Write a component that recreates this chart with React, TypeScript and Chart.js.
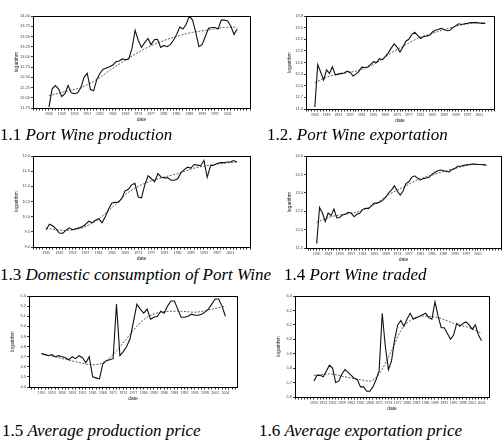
import { useEffect, useRef } from 'react';
import { Chart, registerables } from 'chart.js';

Chart.register(...registerables);

// ---- 1.1 Port Wine production (log), yearly from 1945 ----
const productionStart = 1945;
const productionValues = [
  11.77, 12.22, 12.3, 12.22, 12.03, 12.1, 12.3, 12.12, 12.1, 12.12,
  12.25, 12.5, 12.6, 12.2, 12.17, 12.45, 12.6, 12.7, 12.73, 12.76,
  12.8, 12.88, 12.9, 12.95, 12.93, 12.95, 13.2, 13.65, 13.4, 13.23,
  13.35, 13.45, 13.3, 13.42, 13.43, 13.23, 13.28, 13.25, 13.3, 13.4,
  13.55, 13.73, 13.68, 13.8, 14.0, 13.9, 13.6, 13.25, 13.3, 13.5,
  13.7, 13.72, 13.72, 13.68, 13.9, 13.9, 13.88, 13.75, 13.55, 13.68,
];
const productionTrendYears = [1945, 1950, 1955, 1960, 1965, 1970, 1975, 1980, 1985, 1990, 1995, 2000, 2004];
const productionTrend = [12.05, 12.15, 12.25, 12.45, 12.72, 12.97, 13.2, 13.37, 13.5, 13.6, 13.66, 13.72, 13.73];
const productionTicks = [11.75, 14.0, 0.25];

// ---- 1.2 Port Wine exportation (log) ----
const exportStart = 1945;
const exportValues = [
  11.45, 12.55, 12.35, 12.15, 12.41, 12.32, 12.49, 12.28, 12.3, 12.32,
  12.33, 12.38, 12.35, 12.25, 12.3, 12.37, 12.48, 12.47, 12.48, 12.55,
  12.62, 12.6, 12.7, 12.67, 12.75, 12.85, 12.97, 13.08, 13.0, 12.87,
  13.0, 13.15, 13.2, 13.32, 13.38, 13.3, 13.22, 13.27, 13.28, 13.3,
  13.38, 13.43, 13.45, 13.48, 13.45, 13.42, 13.43, 13.5, 13.55, 13.6,
  13.58, 13.6, 13.61, 13.63, 13.63, 13.63, 13.62, 13.61, 13.61,
];
const exportTrendYears = [1945, 1950, 1955, 1960, 1965, 1970, 1975, 1980, 1985, 1990, 1995, 2000, 2003];
const exportTrend = [12.08, 12.25, 12.32, 12.4, 12.55, 12.8, 13.02, 13.22, 13.35, 13.47, 13.57, 13.62, 13.62];
const exportTicks = [11.4, 13.8, 0.3];

// ---- 1.3 Domestic consumption of Port Wine (log) ----
const domesticStart = 1945;
const domesticValues = [
  9.57, 9.75, 9.7, 9.6, 9.46, 9.45, 9.55, 9.63, 9.57, 9.6,
  9.63, 9.67, 9.75, 9.85, 9.8, 9.88, 9.93, 9.8, 10.0, 10.25,
  10.45, 10.47, 10.48, 10.6, 10.85, 10.9, 11.05, 11.1, 10.65, 10.62,
  11.05, 11.35, 11.25, 11.15, 11.42, 11.3, 11.28, 11.28, 11.2, 11.2,
  11.25, 11.45, 11.55, 11.63, 11.6, 11.72, 11.7, 11.68, 11.85, 11.3,
  11.68, 11.7, 11.75, 11.78, 11.78, 11.8, 11.8, 11.85, 11.8,
];
const domesticTrendYears = [1945, 1950, 1955, 1960, 1965, 1970, 1975, 1980, 1985, 1990, 1995, 2000, 2003];
const domesticTrend = [9.62, 9.55, 9.6, 9.85, 10.3, 10.8, 11.1, 11.28, 11.42, 11.6, 11.7, 11.77, 11.8];
const domesticTicks = [9.0, 12.0, 0.5];

// ---- 1.4 Port Wine traded (log) ----
const tradedStart = 1945;
const tradedValues = [
  11.62, 12.6, 12.45, 12.22, 12.45, 12.38, 12.56, 12.32, 12.33, 12.4,
  12.42, 12.47, 12.45, 12.35, 12.42, 12.45, 12.55, 12.58, 12.57, 12.65,
  12.72, 12.72, 12.75, 12.8, 12.88, 13.0, 13.08, 13.19, 13.05, 12.94,
  13.05, 13.25, 13.3, 13.42, 13.46, 13.4, 13.35, 13.38, 13.4, 13.42,
  13.5, 13.55, 13.6, 13.62, 13.6, 13.58, 13.57, 13.63, 13.66, 13.72,
  13.72, 13.75, 13.76, 13.77, 13.78, 13.78, 13.77, 13.77, 13.76, 13.75,
];
const tradedTrendYears = [1945, 1950, 1955, 1960, 1965, 1970, 1975, 1980, 1985, 1990, 1995, 2000, 2004];
const tradedTrend = [12.2, 12.35, 12.42, 12.5, 12.68, 12.95, 13.15, 13.35, 13.48, 13.6, 13.7, 13.77, 13.77];
const tradedTicks = [11.5, 14.0, 0.5];

// ---- 1.5 Average production price (log) ----
const prodPriceStart = 1950;
const prodPriceValues = [
  4.73, 4.72, 4.71, 4.72, 4.7, 4.71, 4.7, 4.69, 4.67, 4.7,
  4.68, 4.71, 4.69, 4.64, 4.7, 4.5, 4.49, 4.48, 4.63, 4.66,
  4.67, 4.68, 5.22, 4.71, 4.75, 4.8, 4.88, 5.05, 5.22, 5.17,
  5.13, 5.17, 5.07, 5.09, 5.1, 5.15, 5.13, 5.2, 5.25, 5.25,
  5.17, 5.09, 5.09, 5.1, 5.12, 5.11, 5.11, 5.12, 5.14, 5.17,
  5.22, 5.27, 5.27, 5.2, 5.1,
];
const prodPriceTrendYears = [1950, 1955, 1960, 1965, 1968, 1971, 1975, 1978, 1981, 1985, 1990, 1995, 2000, 2004];
const prodPriceTrend = [4.73, 4.69, 4.65, 4.62, 4.64, 4.72, 4.88, 5.0, 5.09, 5.14, 5.15, 5.14, 5.17, 5.2];
const prodPriceTicks = [4.4, 5.3, 0.1];

// ---- 1.6 Average exportation price (log) ----
const expPriceStart = 1950;
const expPriceValues = [
  5.71, 5.75, 5.75, 5.74, 5.78, 5.82, 5.8, 5.7, 5.71, 5.76,
  5.79, 5.77, 5.75, 5.73, 5.72, 5.67, 5.67, 5.64, 5.64, 5.67,
  5.72, 5.78, 6.18, 5.95, 5.79, 5.85, 6.0, 6.1, 6.13, 6.09,
  6.14, 6.18, 6.14, 6.15, 6.16, 6.17, 6.18, 6.15, 6.14, 6.26,
  6.16, 6.08, 6.08, 6.04, 6.0, 6.03, 6.11, 6.09, 6.11, 6.12,
  6.1, 6.07, 6.1, 6.03, 5.99,
];
const expPriceTrendYears = [1950, 1955, 1960, 1965, 1968, 1971, 1975, 1978, 1981, 1985, 1990, 1995, 2000, 2004];
const expPriceTrend = [5.75, 5.76, 5.74, 5.72, 5.71, 5.76, 5.92, 6.06, 6.13, 6.16, 6.15, 6.11, 6.08, 6.04];
const expPriceTicks = [5.6, 6.3, 0.1];

// year axis: [min, max, first labelled year, label step, last labelled year]
const yearsA = [1940, 2008, 1945, 4, 2001];
const yearsB = [1942, 2006, 1945, 4, 2001];
const yearsC = [1941, 2007, 1945, 4, 2001];
const yearsD = [1941.3, 2009, 1945, 4, 2001];
const yearsE = [1946.3, 2007.4, 1950, 3, 2004];
const yearsF = [1943.9, 2006.4, 1950, 3, 2004];

const Y_AXIS_W = 28;
const X_AXIS_H = 18;
const PAD_TOP = 4;
const PAD_RIGHT = 4;
const SANS = '"Liberation Sans", Arial, sans-serif';

const framePlugin = {
  id: 'frame',
  afterDraw(chart: any) {
    const { ctx, chartArea: a } = chart;
    const al = (p: number) => Math.round(p - 0.5) + 0.5;
    ctx.save();
    ctx.strokeStyle = '#000';
    ctx.lineWidth = 1;
    ctx.strokeRect(al(a.left), al(a.top), al(a.right) - al(a.left), al(a.bottom) - al(a.top));
    ctx.restore();
  },
};

type PanelProps = {
  box: { L: number; T: number; R: number; B: number };
  start: number;
  values: number[];
  trendYears: number[];
  trend: number[];
  yTicks: number[];
  decimals: number;
  years: number[];
};

function Panel({ box, start, values, trendYears, trend, yTicks, decimals, years }: PanelProps) {
  const ref = useRef<HTMLCanvasElement | null>(null);
  const width = box.R - box.L + Y_AXIS_W + PAD_RIGHT;
  const height = box.B - box.T + PAD_TOP + X_AXIS_H;

  useEffect(() => {
    if (!ref.current) return;
    const [xMin, xMax, labFirst, labStep, labLast] = years;
    const [yMin, yMax, yStep] = yTicks;
    const chart = new Chart(ref.current, {
      type: 'line',
      data: {
        datasets: [
          {
            data: values.map((v, i) => ({ x: start + i, y: v })),
            borderColor: '#111',
            borderWidth: 1.1,
            pointRadius: 0,
            tension: 0,
            fill: false,
          },
          {
            data: trendYears.map((yr, i) => ({ x: yr, y: trend[i] })),
            borderColor: '#333',
            borderWidth: 0.8,
            borderDash: [2, 1.5],
            pointRadius: 0,
            cubicInterpolationMode: 'monotone',
            fill: false,
          },
        ],
      },
      options: {
        animation: false,
        responsive: false,
        maintainAspectRatio: false,
        devicePixelRatio: 1,
        layout: { padding: { top: PAD_TOP, right: PAD_RIGHT, left: 0, bottom: 0 } },
        plugins: { legend: { display: false }, tooltip: { enabled: false } },
        scales: {
          x: {
            type: 'linear',
            min: xMin,
            max: xMax,
            afterFit: (s: any) => {
              s.height = X_AXIS_H;
            },
            grid: { drawOnChartArea: false, drawTicks: true, tickLength: 2.5, color: '#000', lineWidth: 0.8 },
            border: { display: true, color: '#000', width: 1 },
            ticks: {
              stepSize: 1,
              maxTicksLimit: 200,
              autoSkip: false,
              includeBounds: false,
              maxRotation: 0,
              minRotation: 0,
              padding: 1,
              color: '#444',
              font: { size: 3.5, family: SANS },
              callback: (v: any) => {
                const n = Math.round(Number(v));
                if (n >= labFirst && n <= labLast && (n - labFirst) % labStep === 0) return String(n);
                return '';
              },
            },
            title: {
              display: true,
              text: 'date',
              color: '#222',
              font: { size: 5, family: SANS },
              padding: { top: 0, bottom: 3 },
            },
          },
          y: {
            type: 'linear',
            min: yMin,
            max: yMax,
            afterFit: (s: any) => {
              s.width = Y_AXIS_W;
            },
            grid: { drawOnChartArea: false, drawTicks: true, tickLength: 2, color: '#000', lineWidth: 0.8 },
            border: { display: true, color: '#000', width: 1 },
            ticks: {
              stepSize: yStep,
              autoSkip: false,
              padding: 1,
              color: '#444',
              font: { size: 4, family: SANS },
              callback: (v: any) => Number(v).toFixed(decimals),
            },
            title: {
              display: true,
              text: 'logarithm',
              color: '#222',
              font: { size: 5, family: SANS },
              padding: { top: 9, bottom: 0 },
            },
          },
        },
      },
      plugins: [framePlugin],
    } as any);
    return () => chart.destroy();
  }, []);

  return (
    <canvas
      ref={ref}
      width={width}
      height={height}
      style={{
        position: 'absolute',
        left: box.L - Y_AXIS_W,
        top: box.T - PAD_TOP,
        width,
        height,
        display: 'block',
      }}
    />
  );
}

function Caption({ left, top, num, text }: { left: number; top: number; num: string; text: string }) {
  return (
    <div
      style={{
        position: 'absolute',
        left,
        top,
        fontFamily: '"Liberation Serif", "Times New Roman", serif',
        fontSize: 17,
        lineHeight: '20px',
        whiteSpace: 'nowrap',
        color: '#000',
      }}
    >
      {num} <i>{text}</i>
    </div>
  );
}

export default function App() {
  return (
    <div
      style={{
        position: 'fixed',
        left: 0,
        top: 0,
        width: 504,
        height: 442,
        background: '#fff',
        overflow: 'hidden',
      }}
    >
      <Panel box={{ L: 33, T: 16, R: 250, B: 108 }} start={productionStart} values={productionValues}
        trendYears={productionTrendYears} trend={productionTrend} yTicks={productionTicks} decimals={2} years={yearsA} />
      <Panel box={{ L: 306, T: 16, R: 494, B: 109 }} start={exportStart} values={exportValues}
        trendYears={exportTrendYears} trend={exportTrend} yTicks={exportTicks} decimals={1} years={yearsB} />
      <Panel box={{ L: 33, T: 156, R: 250, B: 247 }} start={domesticStart} values={domesticValues}
        trendYears={domesticTrendYears} trend={domesticTrend} yTicks={domesticTicks} decimals={1} years={yearsC} />
      <Panel box={{ L: 306, T: 156, R: 501, B: 248 }} start={tradedStart} values={tradedValues}
        trendYears={tradedTrendYears} trend={tradedTrend} yTicks={tradedTicks} decimals={1} years={yearsD} />
      <Panel box={{ L: 29, T: 296, R: 237, B: 387 }} start={prodPriceStart} values={prodPriceValues}
        trendYears={prodPriceTrendYears} trend={prodPriceTrend} yTicks={prodPriceTicks} decimals={1} years={yearsE} />
      <Panel box={{ L: 295, T: 296, R: 489, B: 397 }} start={expPriceStart} values={expPriceValues}
        trendYears={expPriceTrendYears} trend={expPriceTrend} yTicks={expPriceTicks} decimals={1} years={yearsF} />

      <Caption left={0} top={125} num="1.1" text="Port Wine production" />
      <Caption left={267} top={125} num="1.2." text="Port Wine exportation" />
      <Caption left={0} top={265} num="1.3" text="Domestic consumption of Port Wine" />
      <Caption left={284} top={265} num="1.4" text="Port Wine traded" />
      <Caption left={2} top={421} num="1.5" text="Average production price" />
      <Caption left={259} top={421} num="1.6" text="Average exportation price" />
    </div>
  );
}
